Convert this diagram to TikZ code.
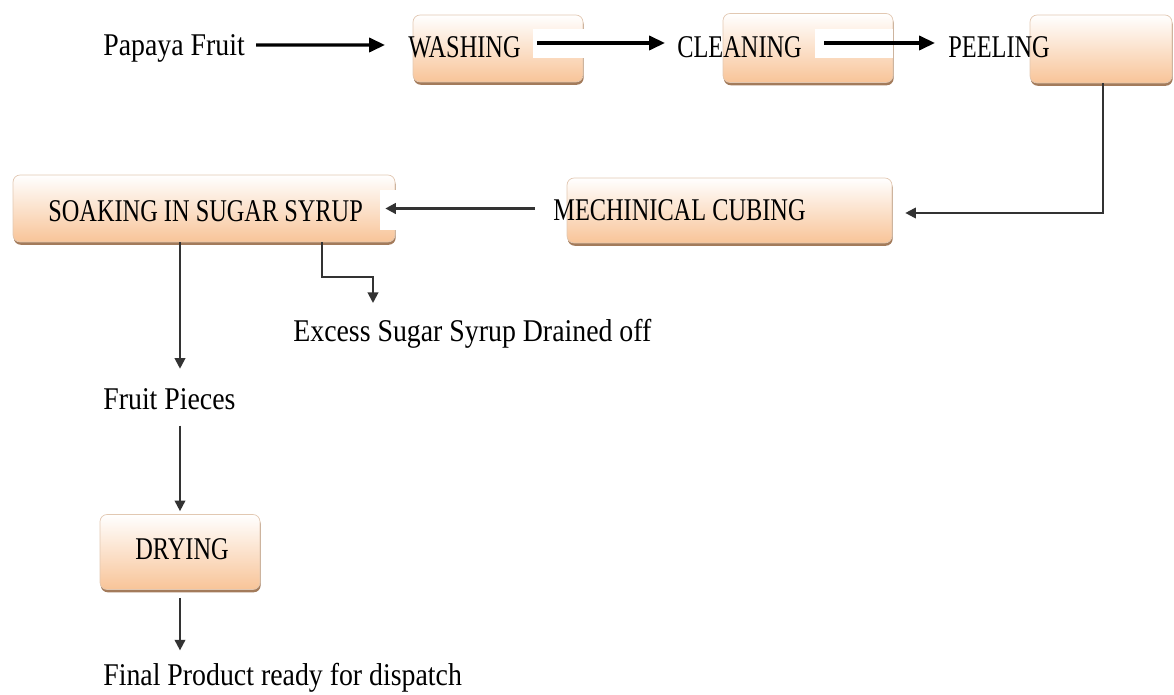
\documentclass[tikz,border=0pt]{standalone}
\usepackage{fontspec}
\setmainfont{Liberation Serif}[FakeStretch=0.88]
\newfontfamily\capsfont{Liberation Serif}[FakeStretch=0.77]
\usetikzlibrary{arrows.meta,positioning,shadows}

\definecolor{peach}{RGB}{248,196,152}
\definecolor{peachedge}{RGB}{226,200,178}
\definecolor{rim}{RGB}{140,90,50}

\tikzset{
  stepbox/.style={rectangle, rounded corners=4pt, inner sep=0pt, draw=peachedge,
    top color=white, bottom color=peach,
    drop shadow={shadow xshift=0.4pt, shadow yshift=-1.6pt, fill=rim, opacity=0.8}},
  lbl/.style={anchor=base west, inner sep=0pt, font=\fontsize{18}{21}\selectfont},
  caplbl/.style={lbl, font=\capsfont\fontsize{18}{21}\selectfont},
  flow/.style={-{Triangle[length=9pt,width=8pt]}, line width=1.8pt},
  link/.style={-{Triangle[length=6pt,width=6pt]}, line width=1.1pt, black!80},
}

\begin{document}
\begin{tikzpicture}[x=0.02cm, y=-0.02cm]
\useasboundingbox (0,0) rectangle (1174,695);

% boxes
\node[stepbox, minimum width=3.4cm, minimum height=1.34cm] (wash) at (498,48.5) {};
\node[stepbox, minimum width=3.4cm, minimum height=1.38cm] (clean) at (808,48) {};
\node[stepbox, minimum width=2.84cm, minimum height=1.36cm] (peel) at (1101,49) {};
\node[stepbox, minimum width=6.5cm, minimum height=1.3cm] (cube) at (729.5,210.5) {};
\node[stepbox, minimum width=7.64cm, minimum height=1.34cm] (soak) at (204,208.5) {};
\node[stepbox, minimum width=3.2cm, minimum height=1.5cm] (dry) at (180,552) {};

% white patches behind the arrows
\fill[white] (533,29) rectangle (585,58);
\fill[white] (815,29) rectangle (893,58);
\fill[white] (380,190) rectangle (540,230);

% labels
\node[lbl] (papaya) at (103,56) {Papaya Fruit};
\node[caplbl] (washtxt) at (408,58) {WASHING};
\node[caplbl] (cleantxt) at (677,58) {CLEANING};
\node[caplbl] (peeltxt) at (948,58) {PEELING};
\node[caplbl] (cubetxt) at (553,221) {MECHINICAL CUBING};
\node[caplbl] (soaktxt) at (48,222) {SOAKING IN SUGAR SYRUP};
\node[lbl] (excess) at (293,342) {Excess Sugar Syrup Drained off};
\node[lbl] (pieces) at (103,410) {Fruit Pieces};
\node[caplbl] (drytxt) at (135,560) {DRYING};
\node[lbl] (final) at (103,686) {Final Product ready for dispatch};

\coordinate (drain) at (373,303);

% arrows
\draw[flow] ([shift={(0.22cm,0.22cm)}]papaya.base east) -- ([shift={(-0.46cm,0.26cm)}]washtxt.base west);
\draw[flow] ([shift={(0.32cm,0.3cm)}]washtxt.base east) -- ([shift={(-0.24cm,0.3cm)}]cleantxt.base west);
\draw[flow] ([shift={(0.44cm,0.3cm)}]cleantxt.base east) -- ([shift={(-0.26cm,0.3cm)}]peeltxt.base west);
\draw[link] ([xshift=0.04cm]peel.south) |- ([xshift=0.26cm, yshift=-0.05cm]cube.east);
\draw[link, line width=1.5pt] ([xshift=-0.64cm]cube.west |- soak.east) -- ([xshift=-0.2cm]soak.east);
\draw[link, shorten >=0.4cm] (soak.south -| 180,0) -- (180,0 |- pieces.north);
\draw[link] (soak.south -| 322,0) |- (drain |- 0,277) -- (drain);
\draw[link, shorten <=0.3cm, shorten >=0.06cm] (dry.north |- pieces.south) -- (dry.north);
\draw[link, shorten <=0.16cm, shorten >=0.26cm] (dry.south) -- (dry.south |- final.north);
\end{tikzpicture}
\end{document}
